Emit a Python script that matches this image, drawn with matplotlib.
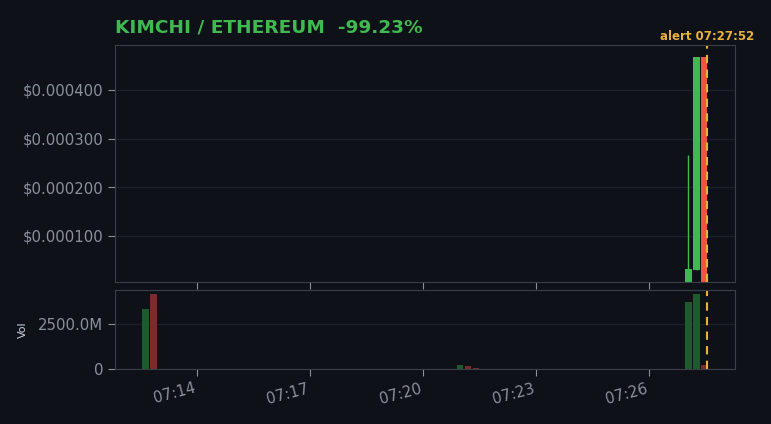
import matplotlib.pyplot as plt
from matplotlib.ticker import FuncFormatter

# candle times in minutes after 07:00
times = [12.633, 12.845, 20.982, 21.195, 21.407, 27.043, 27.261, 27.460]
opens = [0.0000034, 0.0000037, 0.0000035, 0.0000036, 0.0000035, 0.0000034, 0.0000302, 0.000468]
closes = [0.0000037, 0.0000035, 0.0000036, 0.0000035, 0.0000034, 0.0000322, 0.000468, 0.0000036]
highs = [0.0000038, 0.0000038, 0.0000037, 0.0000036, 0.0000035, 0.000266, 0.000468, 0.000468]
lows = [0.0000033, 0.0000034, 0.0000034, 0.0000034, 0.0000033, 0.0000034, 0.0000302, 0.0000035]
volumes = [3333e6, 4167e6, 222e6, 167e6, 60e6, 3722e6, 4167e6, 222e6]

tick_pos = [14, 17, 20, 23, 26]
tick_labels = ['07:14', '07:17', '07:20', '07:23', '07:26']
alert_time = 27.54
alert_label = 'alert 07:27:52'
title = 'KIMCHI / ETHEREUM  -99.23%'

BG = '#0e1117'
GREEN = '#3fb950'
RED = '#f0553f'
VGREEN = '#1f5a2c'
VRED = '#7a2c2c'
GOLD = '#e8b23a'
GRID = '#1c2029'
SPINE = '#3a3f48'
TXT = '#8b929c'

fig = plt.figure(figsize=(7.71, 4.24), dpi=100)
fig.patch.set_facecolor(BG)
ax = fig.add_axes([115/771, 142/424, 620/771, 237/424])
axv = fig.add_axes([115/771, 55/424, 620/771, 79/424], sharex=ax)

for a in (ax, axv):
    a.set_facecolor(BG)
    for s in a.spines.values():
        s.set_color(SPINE)
    a.tick_params(colors=TXT, labelsize=10.7, length=5)
    a.grid(axis='y', color=GRID, linewidth=1)
    a.set_axisbelow(True)

w = 0.18
for t, o, c, h, l, v in zip(times, opens, closes, highs, lows, volumes):
    col = GREEN if c >= o else RED
    vcol = VGREEN if c >= o else VRED
    ax.vlines(t, l, h, color=col, linewidth=1)
    ax.bar(t, abs(c - o), bottom=min(o, c), width=w, color=col)
    axv.bar(t, v, width=w, color=vcol)

ax.set_xlim(11.823, 28.283)
ax.set_ylim(0.0000055, 0.000492)
ax.set_yticks([0.0001, 0.0002, 0.0003, 0.0004])
ax.yaxis.set_major_formatter(FuncFormatter(lambda v, p: '$%.6f' % v))
ax.tick_params(axis='x', labelbottom=False)

axv.set_ylim(0, 4390e6)
axv.set_yticks([0, 2500e6])
axv.yaxis.set_major_formatter(FuncFormatter(lambda v, p: '0' if v == 0 else '%.1fM' % (v / 1e6)))
axv.set_xticks(tick_pos)
axv.set_xticklabels(tick_labels, rotation=15, ha='right')
axv.set_ylabel('Vol', color='#c9d1d9', fontsize=8)
axv.yaxis.set_label_coords(-0.14, 0.5)

for a in (ax, axv):
    a.axvline(alert_time, color=GOLD, linestyle='--', linewidth=1.5, dashes=(4, 3))
ax.text(alert_time, 1.01, alert_label, transform=ax.get_xaxis_transform(),
        color=GOLD, fontsize=8.5, fontweight='bold', ha='center', va='bottom')

fig.text(115/771, 1 - 28/424, title, color=GREEN, fontsize=13.3, fontweight='bold',
         ha='left', va='center')

fig.savefig('out.png', dpi=100, facecolor=BG)
